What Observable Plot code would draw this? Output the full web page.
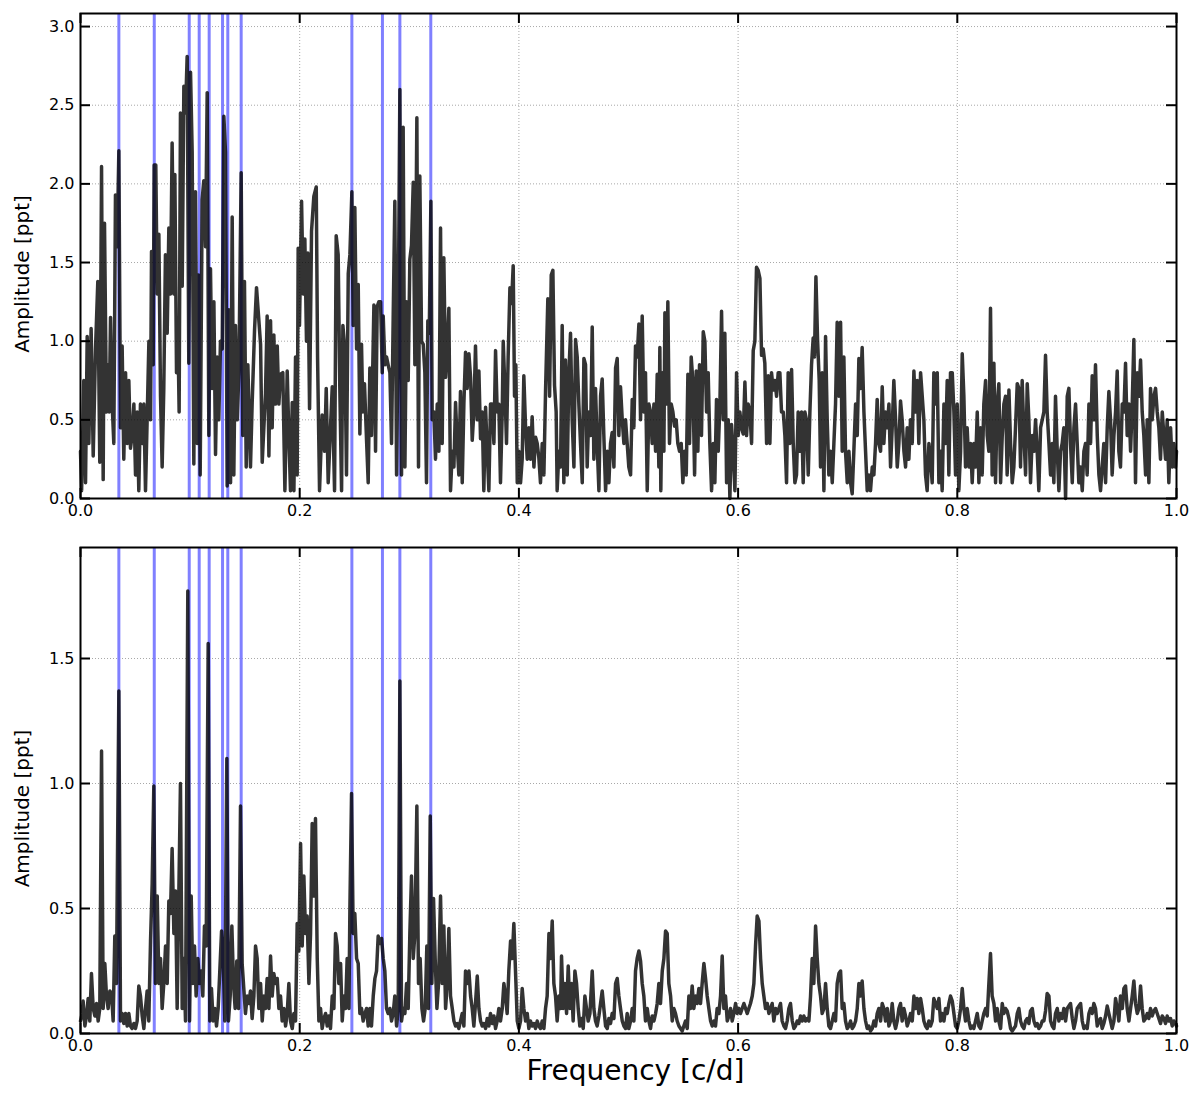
<!DOCTYPE html>
<html><head><meta charset="utf-8">
<script src="https://cdn.jsdelivr.net/npm/d3@7"></script>
<script src="https://cdn.jsdelivr.net/npm/@observablehq/plot@0.6"></script>
<style>
body{margin:0;background:#fff;}
#chart svg{display:block;}
</style></head><body><div id="chart"></div>
<script>
const blueFreqs = [0.0350, 0.0673, 0.0992, 0.1083, 0.1174, 0.1296, 0.1344, 0.1466, 0.2476, 0.2755, 0.2914, 0.3196];
const xTicks = [0, 0.2, 0.4, 0.6, 0.8, 1.0];
const yTicksTop = [0, 0.5, 1.0, 1.5, 2.0, 2.5, 3.0];
const yTicksBottom = [0, 0.5, 1.0, 1.5];
const xLabel = "Frequency [c/d]";
const yLabel = "Amplitude [ppt]";

// Top panel: amplitude spectrum of the original data [frequency, amplitude]
const topSpectrum = [
[0.0000,0.30],[0.0010,0.05],[0.0030,0.75],[0.0046,0.10],[0.0061,1.03],[0.0076,0.35],[0.0097,1.08],[0.0116,0.27],[0.0137,0.95],[0.0158,1.38],[0.0176,0.23],[0.0192,2.11],[0.0207,0.12],[0.0219,1.75],[0.0237,0.55],[0.0249,0.85],[0.0262,0.55],[0.0274,1.15],[0.0289,0.60],[0.0304,0.35],[0.0319,1.93],[0.0334,1.60],[0.0350,2.21],[0.0365,0.45],[0.0380,0.97],[0.0395,0.25],[0.0411,0.80],[0.0426,0.35],[0.0441,0.75],[0.0456,0.32],[0.0471,0.40],[0.0487,0.60],[0.0502,0.15],[0.0517,0.55],[0.0532,0.05],[0.0547,0.60],[0.0563,0.35],[0.0578,0.60],[0.0593,0.05],[0.0608,0.50],[0.0624,1.00],[0.0639,0.50],[0.0648,1.57],[0.0663,0.85],[0.0672,2.12],[0.0687,2.12],[0.0700,1.30],[0.0715,1.68],[0.0730,0.65],[0.0745,0.20],[0.0760,0.70],[0.0775,1.55],[0.0791,1.05],[0.0806,1.72],[0.0821,1.30],[0.0836,2.26],[0.0852,1.30],[0.0861,2.06],[0.0876,0.80],[0.0888,1.10],[0.0900,0.55],[0.0912,2.45],[0.0928,1.35],[0.0943,2.62],[0.0958,2.45],[0.0973,2.81],[0.0988,0.86],[0.1004,2.71],[0.1019,2.20],[0.1034,0.22],[0.1049,1.95],[0.1065,0.35],[0.1077,1.42],[0.1092,0.15],[0.1110,1.90],[0.1125,2.02],[0.1141,1.60],[0.1156,2.58],[0.1171,0.40],[0.1186,1.46],[0.1201,0.70],[0.1217,1.25],[0.1232,0.28],[0.1247,0.90],[0.1262,0.50],[0.1277,1.00],[0.1293,0.95],[0.1308,2.43],[0.1323,2.20],[0.1338,0.08],[0.1353,1.20],[0.1369,0.10],[0.1384,1.79],[0.1399,0.15],[0.1414,1.10],[0.1430,0.50],[0.1445,0.80],[0.1466,2.07],[0.1481,0.40],[0.1496,1.38],[0.1512,0.20],[0.1527,0.85],[0.1551,0.20],[0.1566,0.60],[0.1588,1.07],[0.1606,1.34],
[0.1643,0.98],[0.1658,0.23],[0.1688,0.67],[0.1703,1.16],[0.1719,0.27],[0.1734,1.13],[0.1749,0.45],[0.1764,1.04],[0.1779,0.60],[0.1795,0.97],[0.1810,0.60],[0.1825,0.79],[0.1846,0.80],[0.1865,0.05],[0.1886,0.81],[0.1901,0.40],[0.1916,0.05],[0.1932,0.61],[0.1947,0.05],[0.1962,0.90],[0.1977,0.15],[0.1986,1.59],[0.1998,1.10],[0.2017,1.89],[0.2032,1.30],[0.2047,1.65],[0.2062,1.00],[0.2074,1.56],[0.2090,0.57],[0.2108,1.70],[0.2129,1.92],[0.2151,1.98],[0.2163,0.90],[0.2181,0.05],[0.2205,0.53],[0.2227,0.30],[0.2242,0.70],[0.2260,0.10],[0.2281,0.45],[0.2297,0.71],[0.2318,0.05],[0.2333,1.67],[0.2351,1.55],[0.2366,0.70],[0.2382,0.05],[0.2394,1.10],[0.2412,0.95],[0.2427,0.15],[0.2443,1.43],[0.2458,1.55],[0.2476,1.95],[0.2488,1.10],[0.2503,1.85],[0.2519,0.95],[0.2534,1.36],[0.2549,0.41],[0.2564,0.98],[0.2576,0.55],[0.2591,0.73],[0.2610,0.37],[0.2625,0.10],[0.2640,0.83],[0.2655,0.40],[0.2677,1.23],[0.2692,0.30],[0.2707,1.22],[0.2722,1.25],[0.2738,1.25],[0.2753,0.80],[0.2762,1.16],[0.2777,0.85],[0.2792,0.90],[0.2807,0.85],[0.2823,0.80],[0.2838,0.35],[0.2853,1.15],[0.2868,1.89],[0.2884,0.15],[0.2899,1.15],[0.2914,2.60],[0.2929,0.15],[0.2944,2.36],[0.2960,0.20],[0.2975,1.25],[0.2990,0.75],[0.3005,1.52],[0.3020,1.61],[0.3036,2.01],[0.3051,0.85],[0.3069,2.42],[0.3084,0.20],[0.3096,2.05],[0.3112,1.00],[0.3127,0.98],[0.3142,0.80],[0.3157,0.10],[0.3169,1.13],[0.3182,1.05],[0.3197,1.89],[0.3209,0.50],[0.3224,0.55],[0.3239,0.25],[0.3255,0.60],[0.3270,0.30],
[0.3285,1.72],[0.3300,0.35],[0.3315,1.53],[0.3331,0.77],[0.3346,0.94],[0.3361,1.21],[0.3376,0.05],[0.3392,0.30],[0.3407,0.20],[0.3422,0.61],[0.3437,0.35],[0.3452,0.15],[0.3467,0.68],[0.3483,0.10],[0.3498,0.60],[0.3513,0.93],[0.3528,0.70],[0.3544,0.92],[0.3559,0.77],[0.3574,0.37],[0.3589,0.55],[0.3604,0.97],[0.3620,0.50],[0.3635,0.81],[0.3650,0.38],[0.3665,0.55],[0.3680,0.05],[0.3696,0.58],[0.3711,0.30],[0.3726,0.05],[0.3741,0.60],[0.3756,0.60],[0.3772,0.35],[0.3787,0.94],[0.3802,0.55],[0.3817,0.60],[0.3832,0.10],[0.3848,0.55],[0.3857,1.00],[0.3872,0.70],[0.3887,0.35],[0.3902,0.90],[0.3918,1.34],[0.3933,1.24],[0.3948,1.48],[0.3960,0.65],[0.3972,0.85],[0.3985,0.10],[0.4000,0.30],[0.4015,0.10],[0.4030,0.25],[0.4045,0.78],[0.4061,0.45],[0.4076,0.25],[0.4091,0.45],[0.4106,0.25],[0.4121,0.52],[0.4137,0.20],[0.4152,0.39],[0.4167,0.35],[0.4182,0.26],[0.4197,0.10],[0.4213,0.35],[0.4228,0.15],[0.4243,0.68],[0.4264,1.27],[0.4280,0.65],[0.4295,1.42],[0.4310,1.45],[0.4325,0.72],[0.4340,0.55],[0.4349,0.05],[0.4365,0.30],[0.4380,0.20],[0.4395,1.10],[0.4410,0.10],[0.4425,0.88],[0.4441,0.15],[0.4456,0.80],[0.4471,1.05],[0.4486,0.50],[0.4502,0.20],[0.4517,1.01],[0.4532,0.90],[0.4547,0.60],[0.4562,0.35],[0.4578,0.10],[0.4593,0.89],[0.4608,0.85],[0.4623,0.20],[0.4638,0.55],[0.4654,0.40],[0.4669,1.09],[0.4684,0.25],[0.4699,0.70],[0.4714,0.35],[0.4730,0.05],[0.4745,0.65],[0.4760,0.76],[0.4775,0.40],[0.4791,0.05],[0.4806,0.30],[0.4821,0.10],[0.4836,0.35],[0.4851,0.42],[0.4867,0.20],[0.4882,0.83],[0.4897,0.89],[0.4912,0.40],[0.4927,0.71],[0.4943,0.50],[0.4958,0.35],[0.4973,0.50],
[0.5003,0.20],[0.5019,0.15],[0.5034,0.63],[0.5049,0.45],[0.5064,0.97],[0.5079,0.90],[0.5095,1.11],[0.5110,0.50],[0.5125,1.16],[0.5140,0.55],[0.5155,0.80],[0.5171,0.05],[0.5186,0.60],[0.5201,0.55],[0.5216,0.35],[0.5232,0.60],[0.5247,0.30],[0.5262,0.79],[0.5277,0.20],[0.5286,0.96],[0.5295,0.05],[0.5308,0.80],[0.5323,0.30],[0.5332,1.18],[0.5347,0.60],[0.5359,1.25],[0.5374,0.35],[0.5390,0.60],[0.5405,0.55],[0.5420,0.46],[0.5435,0.50],[0.5450,0.35],[0.5466,0.30],[0.5481,0.35],[0.5496,0.10],[0.5511,0.30],[0.5527,0.15],[0.5542,0.79],[0.5557,0.35],[0.5572,0.90],[0.5587,0.75],[0.5603,0.15],[0.5618,0.81],[0.5633,0.30],[0.5648,0.85],[0.5666,0.40],[0.5682,1.06],[0.5697,1.00],[0.5712,0.55],[0.5727,0.80],[0.5742,0.35],[0.5758,0.05],[0.5773,0.35],[0.5788,0.10],[0.5803,0.63],[0.5819,0.30],[0.5834,0.60],[0.5849,1.19],[0.5864,0.50],[0.5879,1.05],[0.5895,0.10],[0.5910,0.50],[0.5925,0.00],[0.5940,0.47],[0.5955,0.30],[0.5971,0.05],[0.5986,0.80],[0.6001,0.40],[0.6016,0.55],[0.6031,0.45],[0.6047,0.41],[0.6062,0.74],[0.6077,0.40],[0.6092,0.60],[0.6107,0.55],[0.6123,0.35],[0.6138,0.94],[0.6153,1.00],[0.6168,1.47],[0.6183,1.45],[0.6199,1.40],[0.6214,0.91],[0.6229,0.95],[0.6244,0.86],[0.6260,0.35],[0.6275,0.78],[0.6290,0.35],[0.6305,0.80],[0.6320,0.69],[0.6336,0.75],[0.6351,0.65],[0.6366,0.80],[0.6381,0.80],[0.6396,0.55],[0.6412,0.55],[0.6427,0.40],[0.6442,0.10],[0.6457,0.80],[0.6472,0.35],[0.6488,0.82],[0.6503,0.35],[0.6518,0.10],[0.6533,0.15],[0.6548,0.55],[0.6564,0.30],[0.6579,0.55],[0.6594,0.10],[0.6609,0.55],[0.6624,0.50],[0.6640,0.15],[0.6655,0.55],[0.6670,0.85],
[0.6685,1.02],[0.6697,0.90],[0.6710,1.41],[0.6725,1.01],[0.6740,0.75],[0.6752,0.20],[0.6767,0.80],[0.6783,0.05],[0.6798,1.03],[0.6813,0.50],[0.6828,0.15],[0.6843,0.30],[0.6859,0.10],[0.6874,0.35],[0.6889,0.60],[0.6904,1.12],[0.6920,0.65],[0.6935,1.12],[0.6950,0.30],[0.6965,0.90],[0.6980,0.30],[0.6996,0.10],[0.7011,0.30],[0.7026,0.10],[0.7041,0.03],[0.7056,0.30],[0.7072,0.60],[0.7087,0.40],[0.7102,0.89],[0.7117,0.70],[0.7132,0.96],[0.7148,0.55],[0.7163,0.30],[0.7178,0.05],[0.7193,0.15],[0.7208,0.05],[0.7224,0.20],[0.7239,0.15],[0.7254,0.35],[0.7269,0.63],[0.7284,0.35],[0.7300,0.30],[0.7315,0.71],[0.7330,0.35],[0.7345,0.55],[0.7361,0.45],[0.7376,0.60],[0.7391,0.20],[0.7406,0.45],[0.7421,0.75],[0.7437,0.50],[0.7452,0.20],[0.7467,0.35],[0.7482,0.62],[0.7497,0.50],[0.7513,0.30],[0.7528,0.20],[0.7543,0.45],[0.7558,0.25],[0.7573,0.50],[0.7589,0.35],[0.7604,0.81],[0.7619,0.55],[0.7634,0.75],[0.7649,0.35],[0.7665,0.80],[0.7680,0.65],[0.7695,0.50],[0.7710,0.15],[0.7725,0.05],[0.7741,0.35],[0.7756,0.25],[0.7771,0.10],[0.7786,0.80],[0.7802,0.60],[0.7817,0.80],[0.7832,0.10],[0.7847,0.30],[0.7862,0.05],[0.7878,0.60],[0.7893,0.35],[0.7908,0.75],[0.7923,0.15],[0.7938,0.80],[0.7954,0.80],[0.7969,0.55],[0.7984,0.15],[0.7999,0.60],[0.8014,0.05],[0.8030,0.30],[0.8045,0.92],[0.8060,0.65],[0.8075,0.20],[0.8090,0.45],[0.8106,0.20],[0.8121,0.35],[0.8136,0.10],[0.8151,0.35],[0.8166,0.20],[0.8182,0.55],[0.8197,0.10],[0.8212,0.45],[0.8227,0.15],[0.8242,0.60],[0.8258,0.75],[0.8273,0.40],[0.8288,0.30],[0.8303,1.21],[0.8318,0.15],[0.8334,0.86],[0.8349,0.10],
[0.8364,0.60],[0.8379,0.73],[0.8395,0.10],[0.8410,0.40],[0.8425,0.60],[0.8440,0.65],[0.8455,0.15],[0.8471,0.69],[0.8486,0.35],[0.8501,0.10],[0.8516,0.20],[0.8531,0.45],[0.8547,0.73],[0.8562,0.70],[0.8577,0.20],[0.8592,0.75],[0.8608,0.40],[0.8623,0.15],[0.8638,0.73],[0.8653,0.50],[0.8668,0.10],[0.8684,0.40],[0.8699,0.30],[0.8714,0.50],[0.8729,0.30],[0.8744,0.05],[0.8760,0.45],[0.8775,0.50],[0.8790,0.55],[0.8805,0.91],[0.8820,0.55],[0.8836,0.35],[0.8851,0.15],[0.8866,0.35],[0.8881,0.10],[0.8896,0.65],[0.8912,0.30],[0.8927,0.05],[0.8942,0.30],[0.8957,0.35],[0.8972,0.45],[0.8988,0.00],[0.9003,0.65],[0.9018,0.70],[0.9033,0.35],[0.9049,0.10],[0.9064,0.45],[0.9079,0.60],[0.9094,0.35],[0.9109,0.10],[0.9125,0.20],[0.9140,0.05],[0.9155,0.30],[0.9170,0.35],[0.9185,0.15],[0.9201,0.60],[0.9216,0.35],[0.9231,0.78],[0.9246,0.50],[0.9261,0.85],[0.9277,0.40],[0.9292,0.15],[0.9307,0.05],[0.9322,0.20],[0.9337,0.35],[0.9353,0.10],[0.9368,0.45],[0.9383,0.68],[0.9398,0.50],[0.9413,0.15],[0.9429,0.40],[0.9444,0.55],[0.9459,0.81],[0.9474,0.30],[0.9489,0.20],[0.9505,0.60],[0.9520,0.55],[0.9535,0.86],[0.9550,0.40],[0.9566,0.60],[0.9581,0.30],[0.9596,0.60],[0.9611,1.01],[0.9626,0.10],[0.9642,0.80],[0.9657,0.65],[0.9672,0.88],[0.9687,0.55],[0.9702,0.40],[0.9718,0.15],[0.9733,0.50],[0.9748,0.10],[0.9763,0.70],[0.9778,0.50],[0.9794,0.65],[0.9809,0.70],[0.9824,0.55],[0.9839,0.45],[0.9854,0.25],[0.9870,0.55],[0.9885,0.40],[0.9900,0.25],[0.9915,0.50],[0.9930,0.10],[0.9946,0.45],[0.9961,0.20],[0.9976,0.35],[0.9991,0.20],[1.0000,0.30]
];

// Bottom panel: amplitude spectrum [frequency, amplitude]
const bottomSpectrum = [
[0.0000,0.05],[0.0015,0.08],[0.0024,0.13],[0.0040,0.03],[0.0055,0.07],[0.0070,0.14],[0.0085,0.05],[0.0100,0.24],[0.0116,0.10],[0.0131,0.07],[0.0146,0.12],[0.0161,0.05],[0.0176,0.10],[0.0192,1.13],[0.0207,0.10],[0.0222,0.28],[0.0237,0.15],[0.0252,0.10],[0.0268,0.17],[0.0283,0.16],[0.0298,0.05],[0.0313,0.39],[0.0328,0.20],[0.0350,1.37],[0.0365,0.05],[0.0380,0.08],[0.0395,0.04],[0.0411,0.08],[0.0426,0.03],[0.0441,0.08],[0.0456,0.03],[0.0471,0.02],[0.0487,0.04],[0.0502,0.02],[0.0517,0.05],[0.0532,0.19],[0.0547,0.15],[0.0563,0.07],[0.0578,0.02],[0.0593,0.10],[0.0608,0.17],[0.0623,0.05],[0.0639,0.37],[0.0654,0.60],[0.0669,0.99],[0.0684,0.20],[0.0700,0.55],[0.0715,0.20],[0.0730,0.30],[0.0745,0.10],[0.0760,0.20],[0.0776,0.35],[0.0791,0.20],[0.0806,0.53],[0.0821,0.48],[0.0836,0.74],[0.0852,0.40],[0.0867,0.57],[0.0882,0.10],[0.0897,0.55],[0.0912,1.00],[0.0928,0.10],[0.0943,0.30],[0.0958,0.05],[0.0979,1.77],[0.0995,0.05],[0.1010,0.55],[0.1025,0.20],[0.1040,0.35],[0.1055,0.15],[0.1071,0.30],[0.1086,0.20],[0.1101,0.25],[0.1116,0.15],[0.1131,0.43],[0.1147,0.35],[0.1165,1.56],[0.1180,0.05],[0.1195,0.18],[0.1210,0.05],[0.1226,0.10],[0.1241,0.03],[0.1256,0.10],[0.1271,0.25],[0.1287,0.41],[0.1302,0.30],[0.1317,0.05],[0.1335,1.10],[0.1350,0.05],[0.1366,0.15],[0.1381,0.43],[0.1396,0.20],[0.1411,0.10],[0.1426,0.29],[0.1442,0.10],[0.1460,0.91],[0.1475,0.28],[0.1490,0.18],[0.1505,0.08],[0.1521,0.15],[0.1536,0.12],[0.1551,0.17],[0.1566,0.06],[0.1582,0.15],
[0.1597,0.35],[0.1612,0.30],[0.1627,0.10],[0.1643,0.20],[0.1658,0.05],[0.1673,0.15],[0.1688,0.10],[0.1703,0.22],[0.1719,0.10],[0.1734,0.31],[0.1749,0.15],[0.1764,0.24],[0.1779,0.20],[0.1795,0.22],[0.1810,0.10],[0.1825,0.15],[0.1840,0.05],[0.1856,0.10],[0.1871,0.03],[0.1886,0.08],[0.1901,0.20],[0.1916,0.05],[0.1932,0.02],[0.1947,0.08],[0.1962,0.05],[0.1977,0.44],[0.1992,0.33],[0.2008,0.76],[0.2023,0.35],[0.2038,0.63],[0.2053,0.40],[0.2068,0.47],[0.2084,0.20],[0.2099,0.40],[0.2114,0.84],[0.2129,0.55],[0.2144,0.86],[0.2160,0.30],[0.2175,0.05],[0.2190,0.10],[0.2205,0.02],[0.2220,0.06],[0.2236,0.08],[0.2251,0.03],[0.2266,0.07],[0.2281,0.02],[0.2297,0.15],[0.2312,0.10],[0.2327,0.40],[0.2342,0.35],[0.2357,0.20],[0.2373,0.28],[0.2388,0.05],[0.2403,0.15],[0.2418,0.10],[0.2433,0.30],[0.2449,0.10],[0.2458,0.50],[0.2473,0.96],[0.2488,0.40],[0.2503,0.48],[0.2519,0.30],[0.2534,0.28],[0.2549,0.08],[0.2564,0.10],[0.2579,0.05],[0.2595,0.08],[0.2610,0.10],[0.2625,0.03],[0.2640,0.10],[0.2655,0.03],[0.2671,0.15],[0.2686,0.22],[0.2701,0.25],[0.2716,0.39],[0.2731,0.36],[0.2747,0.38],[0.2762,0.30],[0.2777,0.25],[0.2792,0.10],[0.2807,0.08],[0.2823,0.10],[0.2838,0.05],[0.2853,0.08],[0.2868,0.15],[0.2884,0.03],[0.2899,0.10],[0.2914,1.41],[0.2929,0.05],[0.2944,0.10],[0.2960,0.08],[0.2975,0.20],[0.2990,0.10],[0.3005,0.40],[0.3020,0.63],[0.3036,0.30],[0.3051,0.40],[0.3069,0.91],[0.3084,0.20],[0.3099,0.30],[0.3115,0.10],[0.3130,0.05],[0.3145,0.10],[0.3160,0.35],[0.3175,0.10],[0.3191,0.87],[0.3206,0.20],[0.3221,0.54],[0.3236,0.30],[0.3252,0.10],[0.3267,0.20],
[0.3285,0.55],[0.3300,0.20],[0.3315,0.43],[0.3331,0.10],[0.3346,0.20],[0.3361,0.42],[0.3376,0.15],[0.3392,0.10],[0.3407,0.05],[0.3422,0.03],[0.3437,0.04],[0.3452,0.02],[0.3467,0.05],[0.3483,0.08],[0.3498,0.03],[0.3513,0.25],[0.3528,0.20],[0.3544,0.25],[0.3559,0.15],[0.3574,0.10],[0.3589,0.03],[0.3604,0.12],[0.3620,0.23],[0.3635,0.10],[0.3650,0.05],[0.3665,0.03],[0.3680,0.04],[0.3696,0.02],[0.3711,0.06],[0.3726,0.03],[0.3741,0.08],[0.3756,0.04],[0.3772,0.07],[0.3787,0.02],[0.3802,0.05],[0.3817,0.10],[0.3832,0.05],[0.3848,0.10],[0.3863,0.20],[0.3878,0.15],[0.3893,0.08],[0.3908,0.25],[0.3924,0.37],[0.3939,0.30],[0.3954,0.44],[0.3969,0.25],[0.3985,0.05],[0.4000,0.02],[0.4015,0.05],[0.4030,0.18],[0.4045,0.10],[0.4061,0.05],[0.4076,0.08],[0.4091,0.02],[0.4106,0.05],[0.4121,0.03],[0.4137,0.04],[0.4152,0.02],[0.4167,0.05],[0.4182,0.03],[0.4197,0.02],[0.4213,0.05],[0.4228,0.02],[0.4243,0.10],[0.4258,0.15],[0.4274,0.40],[0.4289,0.30],[0.4304,0.45],[0.4319,0.20],[0.4334,0.15],[0.4349,0.05],[0.4365,0.15],[0.4380,0.10],[0.4389,0.31],[0.4404,0.10],[0.4419,0.20],[0.4435,0.08],[0.4450,0.27],[0.4465,0.10],[0.4480,0.20],[0.4495,0.05],[0.4511,0.25],[0.4526,0.20],[0.4541,0.10],[0.4556,0.03],[0.4572,0.06],[0.4587,0.02],[0.4602,0.15],[0.4617,0.10],[0.4632,0.05],[0.4648,0.08],[0.4669,0.25],[0.4684,0.10],[0.4699,0.05],[0.4714,0.03],[0.4730,0.07],[0.4745,0.12],[0.4760,0.17],[0.4775,0.10],[0.4791,0.03],[0.4806,0.02],[0.4821,0.06],[0.4836,0.04],[0.4851,0.08],[0.4867,0.06],[0.4882,0.20],[0.4897,0.22],[0.4912,0.15],[0.4927,0.10],[0.4943,0.05],[0.4958,0.03],[0.4973,0.02],
[0.4988,0.08],[0.5003,0.02],[0.5019,0.05],[0.5034,0.10],[0.5049,0.05],[0.5064,0.25],[0.5079,0.30],[0.5095,0.33],[0.5110,0.29],[0.5125,0.20],[0.5140,0.15],[0.5155,0.05],[0.5171,0.10],[0.5186,0.05],[0.5201,0.02],[0.5216,0.07],[0.5232,0.05],[0.5247,0.08],[0.5262,0.12],[0.5277,0.20],[0.5292,0.12],[0.5308,0.25],[0.5323,0.30],[0.5338,0.41],[0.5353,0.40],[0.5368,0.20],[0.5384,0.15],[0.5399,0.05],[0.5414,0.10],[0.5429,0.08],[0.5444,0.05],[0.5460,0.03],[0.5475,0.02],[0.5490,0.01],[0.5505,0.03],[0.5520,0.05],[0.5536,0.02],[0.5551,0.15],[0.5566,0.10],[0.5581,0.19],[0.5596,0.10],[0.5612,0.15],[0.5627,0.12],[0.5642,0.18],[0.5657,0.12],[0.5672,0.20],[0.5688,0.28],[0.5703,0.22],[0.5718,0.15],[0.5733,0.10],[0.5749,0.05],[0.5764,0.03],[0.5779,0.05],[0.5794,0.03],[0.5809,0.10],[0.5825,0.08],[0.5840,0.15],[0.5855,0.31],[0.5870,0.10],[0.5885,0.15],[0.5901,0.05],[0.5916,0.07],[0.5931,0.10],[0.5946,0.05],[0.5961,0.08],[0.5977,0.12],[0.5992,0.08],[0.6007,0.10],[0.6022,0.08],[0.6037,0.10],[0.6053,0.12],[0.6068,0.10],[0.6083,0.08],[0.6098,0.10],[0.6113,0.12],[0.6129,0.15],[0.6144,0.20],[0.6159,0.35],[0.6174,0.47],[0.6190,0.45],[0.6205,0.30],[0.6220,0.20],[0.6235,0.15],[0.6250,0.10],[0.6266,0.12],[0.6281,0.08],[0.6296,0.10],[0.6311,0.12],[0.6326,0.05],[0.6342,0.10],[0.6357,0.08],[0.6372,0.10],[0.6387,0.12],[0.6402,0.05],[0.6418,0.03],[0.6433,0.02],[0.6448,0.05],[0.6463,0.10],[0.6478,0.12],[0.6494,0.05],[0.6509,0.02],[0.6524,0.03],[0.6539,0.05],[0.6554,0.04],[0.6570,0.07],[0.6585,0.05],[0.6600,0.07],[0.6615,0.05],[0.6631,0.06],[0.6646,0.05],[0.6661,0.15],
[0.6676,0.30],[0.6691,0.20],[0.6707,0.43],[0.6722,0.30],[0.6737,0.20],[0.6752,0.15],[0.6767,0.08],[0.6783,0.10],[0.6798,0.20],[0.6813,0.10],[0.6828,0.03],[0.6843,0.02],[0.6859,0.05],[0.6874,0.08],[0.6889,0.05],[0.6904,0.20],[0.6920,0.24],[0.6935,0.25],[0.6950,0.10],[0.6965,0.12],[0.6980,0.05],[0.6996,0.02],[0.7011,0.03],[0.7026,0.05],[0.7041,0.02],[0.7056,0.03],[0.7072,0.05],[0.7087,0.10],[0.7102,0.20],[0.7117,0.15],[0.7132,0.21],[0.7148,0.10],[0.7163,0.05],[0.7178,0.02],[0.7193,0.03],[0.7208,0.01],[0.7224,0.02],[0.7239,0.05],[0.7254,0.03],[0.7269,0.08],[0.7284,0.10],[0.7300,0.05],[0.7315,0.12],[0.7330,0.10],[0.7345,0.05],[0.7361,0.10],[0.7376,0.03],[0.7391,0.05],[0.7406,0.12],[0.7421,0.05],[0.7437,0.02],[0.7452,0.05],[0.7467,0.10],[0.7482,0.12],[0.7497,0.05],[0.7513,0.10],[0.7528,0.07],[0.7543,0.03],[0.7558,0.05],[0.7573,0.08],[0.7589,0.05],[0.7604,0.15],[0.7619,0.10],[0.7634,0.14],[0.7649,0.08],[0.7665,0.14],[0.7680,0.10],[0.7695,0.05],[0.7710,0.03],[0.7725,0.02],[0.7741,0.05],[0.7756,0.03],[0.7771,0.05],[0.7786,0.14],[0.7802,0.12],[0.7817,0.10],[0.7832,0.14],[0.7847,0.05],[0.7862,0.08],[0.7878,0.05],[0.7893,0.10],[0.7908,0.08],[0.7923,0.12],[0.7938,0.15],[0.7954,0.13],[0.7969,0.08],[0.7984,0.03],[0.7999,0.02],[0.8014,0.05],[0.8030,0.10],[0.8045,0.18],[0.8060,0.10],[0.8075,0.05],[0.8090,0.10],[0.8106,0.05],[0.8121,0.02],[0.8136,0.03],[0.8151,0.02],[0.8166,0.05],[0.8182,0.08],[0.8197,0.03],[0.8212,0.02],[0.8227,0.05],[0.8242,0.08],[0.8258,0.10],[0.8273,0.07],[0.8288,0.20],[0.8303,0.32],[0.8318,0.15],[0.8334,0.12],[0.8349,0.05],
[0.8364,0.10],[0.8379,0.05],[0.8395,0.02],[0.8410,0.12],[0.8425,0.08],[0.8440,0.10],[0.8455,0.09],[0.8471,0.06],[0.8486,0.02],[0.8501,0.01],[0.8516,0.02],[0.8531,0.03],[0.8547,0.08],[0.8562,0.10],[0.8577,0.05],[0.8592,0.03],[0.8608,0.02],[0.8623,0.05],[0.8638,0.06],[0.8653,0.04],[0.8668,0.09],[0.8684,0.10],[0.8699,0.05],[0.8714,0.03],[0.8729,0.04],[0.8744,0.02],[0.8760,0.03],[0.8775,0.05],[0.8790,0.05],[0.8805,0.09],[0.8820,0.16],[0.8836,0.15],[0.8851,0.05],[0.8866,0.03],[0.8881,0.02],[0.8896,0.08],[0.8912,0.10],[0.8927,0.05],[0.8942,0.08],[0.8957,0.06],[0.8972,0.10],[0.8988,0.05],[0.9003,0.10],[0.9018,0.11],[0.9033,0.12],[0.9049,0.06],[0.9064,0.02],[0.9079,0.05],[0.9094,0.10],[0.9109,0.11],[0.9125,0.12],[0.9140,0.05],[0.9155,0.02],[0.9170,0.03],[0.9185,0.02],[0.9201,0.08],[0.9216,0.10],[0.9231,0.08],[0.9246,0.12],[0.9261,0.10],[0.9277,0.03],[0.9292,0.05],[0.9307,0.06],[0.9322,0.02],[0.9337,0.04],[0.9353,0.07],[0.9368,0.11],[0.9383,0.08],[0.9398,0.05],[0.9413,0.02],[0.9429,0.05],[0.9444,0.14],[0.9459,0.10],[0.9474,0.05],[0.9489,0.15],[0.9505,0.10],[0.9520,0.18],[0.9535,0.19],[0.9550,0.10],[0.9566,0.05],[0.9581,0.10],[0.9596,0.15],[0.9611,0.21],[0.9626,0.12],[0.9642,0.08],[0.9657,0.10],[0.9672,0.19],[0.9687,0.10],[0.9702,0.05],[0.9718,0.06],[0.9733,0.08],[0.9748,0.06],[0.9763,0.10],[0.9778,0.07],[0.9794,0.09],[0.9809,0.10],[0.9824,0.08],[0.9839,0.06],[0.9854,0.04],[0.9870,0.07],[0.9885,0.06],[0.9900,0.04],[0.9915,0.07],[0.9930,0.05],[0.9946,0.06],[0.9961,0.03],[0.9976,0.05],[0.9991,0.04],[1.0000,0.03]
];

const W = 1200, ML = 80, MR = 24;
const FW = W - ML - MR;
const TICK = 10;
const FONT = "'DejaVu Sans', sans-serif";

function panel({spectrum, yMax, yTicks, height, marginTop, marginBottom, withXLabel}) {
  const FH = height - marginTop - marginBottom;
  const rows = spectrum.map(([f, a]) => ({f, a}));
  const tickStyle = {stroke: "black", strokeWidth: 2};
  const gridStyle = {stroke: "#a8a8a8", strokeWidth: 1, strokeDasharray: "1,2"};
  const marks = [
    Plot.ruleX(xTicks, gridStyle),
    Plot.ruleY(yTicks, gridStyle),
    Plot.ruleX(blueFreqs, {stroke: "#8080ff", strokeWidth: 3}),
    Plot.line(rows, {x: "f", y: "a", stroke: "black", strokeOpacity: 0.8, strokeWidth: 3.5, strokeLinejoin: "round"}),
    Plot.frame({stroke: "black", strokeWidth: 2}),
    Plot.ruleX(xTicks, {...tickStyle, insetTop: FH - TICK}),
    Plot.ruleX(xTicks, {...tickStyle, insetBottom: FH - TICK}),
    Plot.ruleY(yTicks, {...tickStyle, insetRight: FW - TICK}),
    Plot.ruleY(yTicks, {...tickStyle, insetLeft: FW - TICK}),
    Plot.text([yLabel], {text: d => d, frameAnchor: "left", textAnchor: "middle", lineAnchor: "middle", dx: -58, dy: 18, rotate: -90, fontSize: 20, fill: "black"})
  ];
  if (withXLabel) {
    marks.push(Plot.text([xLabel], {text: d => d, frameAnchor: "bottom", textAnchor: "middle", lineAnchor: "middle", dx: 7, dy: 38, fontSize: 28, fill: "black"}));
  }
  return Plot.plot({
    width: W, height,
    marginLeft: ML, marginRight: MR, marginTop, marginBottom,
    style: {fontFamily: FONT, fontSize: "16px", color: "black", background: "white", overflow: "visible"},
    x: {domain: [0, 1], ticks: xTicks, tickFormat: ".1f", tickSize: 0, tickPadding: 6, label: null},
    y: {domain: [0, yMax], ticks: yTicks, tickFormat: ".1f", tickSize: 0, tickPadding: 6, label: null},
    marks
  });
}

const chart = document.getElementById("chart");
chart.appendChild(panel({spectrum: topSpectrum, yMax: 3.083, yTicks: yTicksTop, height: 530, marginTop: 13, marginBottom: 32, withXLabel: false}));
chart.appendChild(panel({spectrum: bottomSpectrum, yMax: 1.944, yTicks: yTicksBottom, height: 563, marginTop: 17, marginBottom: 60, withXLabel: true}));
</script>
</body></html>
